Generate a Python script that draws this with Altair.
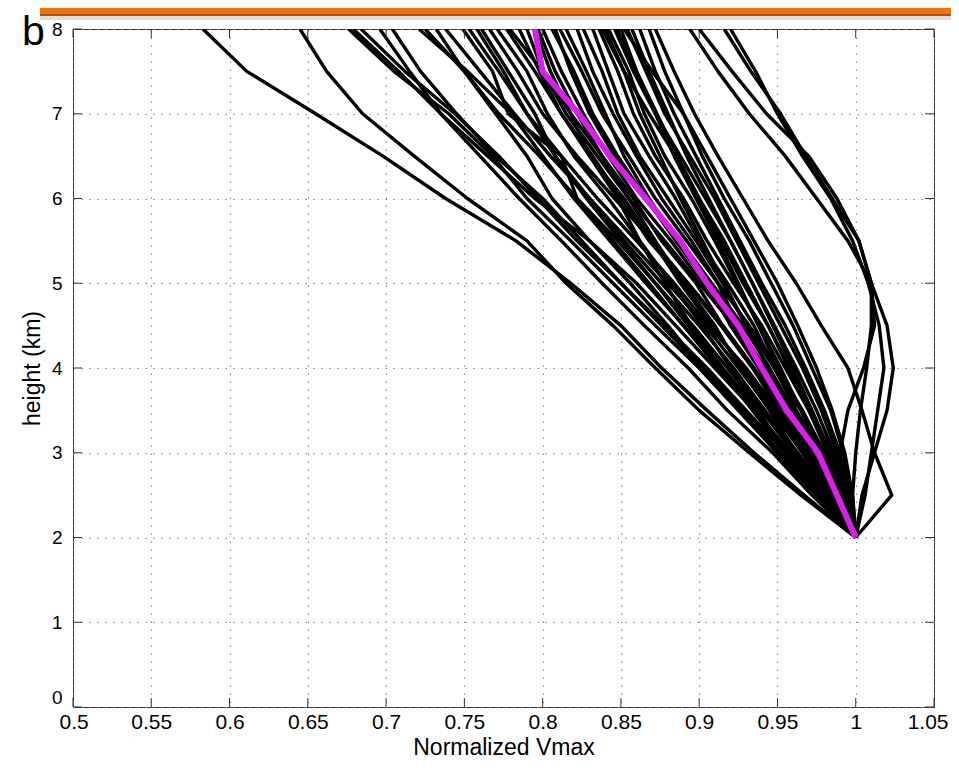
import altair as alt
import pandas as pd

# ---------------- data ----------------
HEIGHTS = [2.0, 2.5, 3.0, 3.5, 4.0, 4.5, 5.0, 5.5, 6.0, 6.5, 7.0, 7.5, 8.0]

p01 = [1.000, 0.967, 0.935, 0.905, 0.876, 0.850, 0.818, 0.783, 0.738, 0.698, 0.655, 0.611, 0.583]
p02 = [1.000, 0.965, 0.932, 0.900, 0.872, 0.845, 0.815, 0.790, 0.752, 0.718, 0.685, 0.662, 0.645]
p03 = [1.000, 0.975, 0.950, 0.925, 0.900, 0.872, 0.845, 0.818, 0.790, 0.768, 0.740, 0.705, 0.676]
p04 = [1.000, 0.972, 0.947, 0.918, 0.893, 0.865, 0.838, 0.812, 0.785, 0.760, 0.735, 0.708, 0.679]
p05 = [1.000, 0.978, 0.955, 0.930, 0.905, 0.878, 0.850, 0.822, 0.797, 0.772, 0.744, 0.712, 0.684]
p06 = [1.000, 0.980, 0.958, 0.935, 0.910, 0.885, 0.860, 0.830, 0.795, 0.765, 0.735, 0.715, 0.696]
p07 = [1.000, 0.976, 0.952, 0.928, 0.902, 0.876, 0.850, 0.825, 0.800, 0.770, 0.745, 0.722, 0.704]
p08 = [1.000, 0.978, 0.957, 0.935, 0.912, 0.890, 0.866, 0.843, 0.820, 0.800, 0.780, 0.752, 0.721]
p09 = [1.000, 0.982, 0.962, 0.940, 0.918, 0.896, 0.872, 0.848, 0.822, 0.798, 0.772, 0.750, 0.725]
p10 = [1.000, 0.975, 0.950, 0.926, 0.902, 0.880, 0.856, 0.830, 0.806, 0.790, 0.770, 0.750, 0.732]
p11 = [1.000, 0.984, 0.966, 0.946, 0.925, 0.904, 0.880, 0.855, 0.830, 0.805, 0.782, 0.760, 0.738]
p12 = [1.000, 0.980, 0.958, 0.936, 0.913, 0.890, 0.868, 0.845, 0.822, 0.812, 0.778, 0.768, 0.749]
p13 = [1.000, 0.986, 0.970, 0.950, 0.930, 0.906, 0.884, 0.860, 0.835, 0.812, 0.790, 0.772, 0.753]
p14 = [1.000, 0.977, 0.955, 0.934, 0.914, 0.893, 0.872, 0.850, 0.828, 0.808, 0.790, 0.775, 0.758]
p15 = [1.000, 0.983, 0.963, 0.942, 0.922, 0.900, 0.876, 0.852, 0.830, 0.808, 0.795, 0.778, 0.761]
p16 = [1.000, 0.988, 0.972, 0.955, 0.935, 0.915, 0.893, 0.870, 0.846, 0.822, 0.800, 0.784, 0.766]
p17 = [1.000, 0.979, 0.960, 0.940, 0.920, 0.902, 0.882, 0.862, 0.842, 0.820, 0.803, 0.790, 0.771]
p18 = [1.000, 0.985, 0.968, 0.952, 0.934, 0.914, 0.892, 0.868, 0.850, 0.832, 0.812, 0.795, 0.777]
p19 = [1.000, 0.990, 0.977, 0.960, 0.942, 0.922, 0.900, 0.878, 0.855, 0.835, 0.815, 0.800, 0.779]
p20 = [1.000, 0.982, 0.966, 0.948, 0.928, 0.908, 0.888, 0.870, 0.852, 0.830, 0.812, 0.798, 0.785]
p21 = [1.000, 0.988, 0.975, 0.960, 0.945, 0.928, 0.908, 0.888, 0.866, 0.848, 0.832, 0.820, 0.806]
p22 = [1.000, 0.992, 0.980, 0.966, 0.950, 0.932, 0.912, 0.892, 0.872, 0.855, 0.838, 0.825, 0.811]
p23 = [1.000, 0.985, 0.970, 0.955, 0.940, 0.925, 0.906, 0.886, 0.868, 0.852, 0.840, 0.828, 0.815]
p24 = [1.000, 0.993, 0.982, 0.970, 0.957, 0.944, 0.930, 0.916, 0.900, 0.885, 0.868, 0.852, 0.838]
p25 = [1.000, 0.990, 0.978, 0.965, 0.952, 0.938, 0.924, 0.910, 0.895, 0.878, 0.865, 0.855, 0.842]
p26 = [1.000, 0.995, 0.986, 0.975, 0.962, 0.948, 0.934, 0.920, 0.904, 0.888, 0.872, 0.858, 0.846]
p27 = [1.000, 0.988, 0.975, 0.962, 0.950, 0.938, 0.925, 0.912, 0.898, 0.884, 0.872, 0.860, 0.850]
p28 = [1.000, 0.996, 0.988, 0.978, 0.966, 0.952, 0.938, 0.924, 0.910, 0.894, 0.878, 0.866, 0.854]
p29 = [1.000, 0.992, 0.983, 0.972, 0.960, 0.947, 0.934, 0.920, 0.906, 0.892, 0.880, 0.868, 0.857]
p30 = [1.000, 0.985, 0.972, 0.958, 0.944, 0.930, 0.916, 0.902, 0.888, 0.875, 0.862, 0.852, 0.840]
p31 = [1.000, 0.994, 0.984, 0.972, 0.958, 0.944, 0.928, 0.914, 0.900, 0.886, 0.873, 0.860, 0.848]
p32 = [1.000, 0.998, 0.993, 0.985, 0.975, 0.963, 0.950, 0.935, 0.920, 0.905, 0.890, 0.878, 0.868]
p33 = [1.000, 1.023, 1.012, 1.004, 0.995, 0.978, 0.962, 0.944, 0.928, 0.912, 0.897, 0.884, 0.872]
p34 = [1.000, 1.004, 1.012, 1.020, 1.024, 1.020, 1.010, 1.002, 0.988, 0.970, 0.943, 0.921, 0.900]
p35 = [1.000, 0.998, 1.000, 1.003, 1.007, 1.010, 1.010, 1.002, 0.985, 0.968, 0.952, 0.933, 0.916]
p36 = [1.000, 1.006, 1.010, 1.014, 1.018, 1.015, 1.008, 0.998, 0.984, 0.966, 0.950, 0.936, 0.920]
p37 = [1.000, 0.992, 0.990, 0.995, 1.005, 1.012, 1.010, 0.995, 0.975, 0.955, 0.932, 0.912, 0.894]
p38 = [1.000, 0.975, 0.955, 0.938, 0.915, 0.895, 0.878, 0.862, 0.848, 0.830, 0.818, 0.800, 0.790]
p39 = [1.000, 0.990, 0.978, 0.962, 0.948, 0.930, 0.915, 0.898, 0.880, 0.862, 0.848, 0.838, 0.826]
p40 = [1.000, 0.996, 0.990, 0.980, 0.968, 0.955, 0.940, 0.926, 0.912, 0.898, 0.884, 0.872, 0.862]
p41 = [1.000, 0.990, 0.975, 0.958, 0.940, 0.922, 0.902, 0.882, 0.860, 0.842, 0.826, 0.812, 0.800]
p42 = [1.000, 0.985, 0.968, 0.950, 0.935, 0.915, 0.898, 0.876, 0.858, 0.838, 0.818, 0.805, 0.795]
p43 = [1.000, 0.993, 0.980, 0.965, 0.948, 0.935, 0.918, 0.900, 0.885, 0.868, 0.852, 0.842, 0.832]
p44 = [1.000, 0.982, 0.970, 0.952, 0.938, 0.920, 0.905, 0.885, 0.866, 0.846, 0.830, 0.818, 0.808]
p45 = [1.000, 0.995, 0.985, 0.970, 0.955, 0.940, 0.922, 0.905, 0.890, 0.872, 0.858, 0.848, 0.836]
p46 = [1.000, 0.988, 0.972, 0.960, 0.942, 0.925, 0.912, 0.895, 0.876, 0.860, 0.845, 0.832, 0.822]
p47 = [1.000, 0.997, 0.992, 0.984, 0.972, 0.960, 0.946, 0.932, 0.916, 0.902, 0.890, 0.870, 0.852]
p48 = [1.000, 0.980, 0.962, 0.945, 0.926, 0.910, 0.890, 0.872, 0.855, 0.838, 0.822, 0.808, 0.797]

PROFILES = [p01, p02, p03, p04, p05, p06, p07, p08, p09, p10,
            p11, p12, p13, p14, p15, p16, p17, p18, p19, p20,
            p21, p22, p23, p24, p25, p26, p27, p28, p29, p30,
            p31, p32, p33, p34, p35, p36, p37, p38, p39, p40,
            p41, p42, p43, p44, p45, p46, p47, p48]

MEAN = [1.000, 0.988, 0.976, 0.956, 0.940, 0.925, 0.905, 0.888, 0.866, 0.843, 0.823, 0.800, 0.795]

X_TICKS = [0.5, 0.55, 0.6, 0.65, 0.7, 0.75, 0.8, 0.85, 0.9, 0.95, 1.0, 1.05]
Y_TICKS = [0, 1, 2, 3, 4, 5, 6, 7, 8]

X_TITLE = "Normalized Vmax"
Y_TITLE = "height (km)"
PANEL_LABEL = "b"

# ---------------- tables ----------------
rows = []
for i, prof in enumerate(PROFILES):
    for h, v in zip(HEIGHTS, prof):
        rows.append({"id": i, "h": h, "v": v})
df = pd.DataFrame(rows)
mean_df = pd.DataFrame({"h": HEIGHTS, "v": MEAN})
xt_df = pd.DataFrame({"v": X_TICKS})
yt_df = pd.DataFrame({"h": Y_TICKS})
one = pd.DataFrame({"t": [PANEL_LABEL]})

W, H = 861, 678
PAD = {"left": 65, "top": 21, "right": 17, "bottom": 57}
FONT = "Liberation Sans"
TK = 9

xs = alt.Scale(domain=[0.5, 1.05], nice=False, zero=False)
ys = alt.Scale(domain=[0, 8], nice=False, zero=False)

x_axis = alt.Axis(
    values=X_TICKS, format="~g", title=X_TITLE, grid=True,
    labelFlush=True, labelFlushOffset=14, labelOverlap=False,
    labelFontSize=21, labelPadding=4, titleFontSize=23, titlePadding=4,
    titleFontWeight="normal")
y_axis = alt.Axis(
    values=Y_TICKS, title=Y_TITLE, grid=True,
    labelFlush=False, labelOverlap=False, labelFontSize=19,
    labelBaseline={"condition": {"test": "datum.value === 0", "value": "bottom"},
                   "value": "middle"},
    labelPadding=11, titleFontSize=23, titlePadding=7,
    titleFontWeight="normal")

X_ENC = alt.X("v:Q", scale=xs, axis=x_axis)
Y_ENC = alt.Y("h:Q", scale=ys, axis=y_axis)

lines = alt.Chart(df).mark_line(
    color="black", strokeWidth=3.4, clip=True, strokeJoin="round"
).encode(x=X_ENC, y=Y_ENC, detail="id:N", order="h:Q")

mean_line = alt.Chart(mean_df).mark_line(
    color="#d920ea", strokeWidth=6, clip=True, strokeJoin="round"
).encode(x=X_ENC, y=Y_ENC, order="h:Q")

tick_style = dict(color="#333333", strokeWidth=1)
xt_bottom = alt.Chart(xt_df).mark_rule(**tick_style).encode(
    x=X_ENC, y=alt.value(H), y2=alt.value(H - TK))
xt_top = alt.Chart(xt_df).mark_rule(**tick_style).encode(
    x=X_ENC, y=alt.value(0), y2=alt.value(TK))
yt_left = alt.Chart(yt_df).mark_rule(**tick_style).encode(
    y=Y_ENC, x=alt.value(0), x2=alt.value(TK))
yt_right = alt.Chart(yt_df).mark_rule(**tick_style).encode(
    y=Y_ENC, x=alt.value(W - TK), x2=alt.value(W))

# slide decorations (banner above the panel, panel letter)
letter = alt.Chart(one).mark_text(
    font=FONT, fontSize=41, align="left", baseline="alphabetic", color="black"
).encode(text="t:N", x=alt.value(-51), y=alt.value(16))
banner = alt.Chart(one).mark_rect(color="#f57304").encode(
    x=alt.value(-33), x2=alt.value(885), y=alt.value(-30), y2=alt.value(-15))
banner_edge = alt.Chart(one).mark_rect(color="#a9530c").encode(
    x=alt.value(-33), x2=alt.value(885), y=alt.value(-15), y2=alt.value(-13))
banner_shadow = alt.Chart(one).mark_rect(color="#cfcfcf", opacity=0.7).encode(
    x=alt.value(-33), x2=alt.value(885), y=alt.value(-13), y2=alt.value(-9))

chart = alt.layer(
    lines, mean_line, xt_bottom, xt_top, yt_left, yt_right,
    letter, banner, banner_edge, banner_shadow
).properties(
    width=W, height=H,
    padding=PAD,
    autosize=alt.AutoSizeParams(type="none"),
    background="white",
).configure_view(
    stroke="#333333", strokeWidth=1
).configure_axis(
    domain=False, ticks=False,
    labelFont=FONT, titleFont=FONT, labelColor="black", titleColor="black",
    gridColor="#8a8a8a", gridDash=[1.5, 6.5], gridWidth=1, gridOpacity=1,
)

chart.save("out.html", embed_options={"renderer": "svg", "actions": False})
